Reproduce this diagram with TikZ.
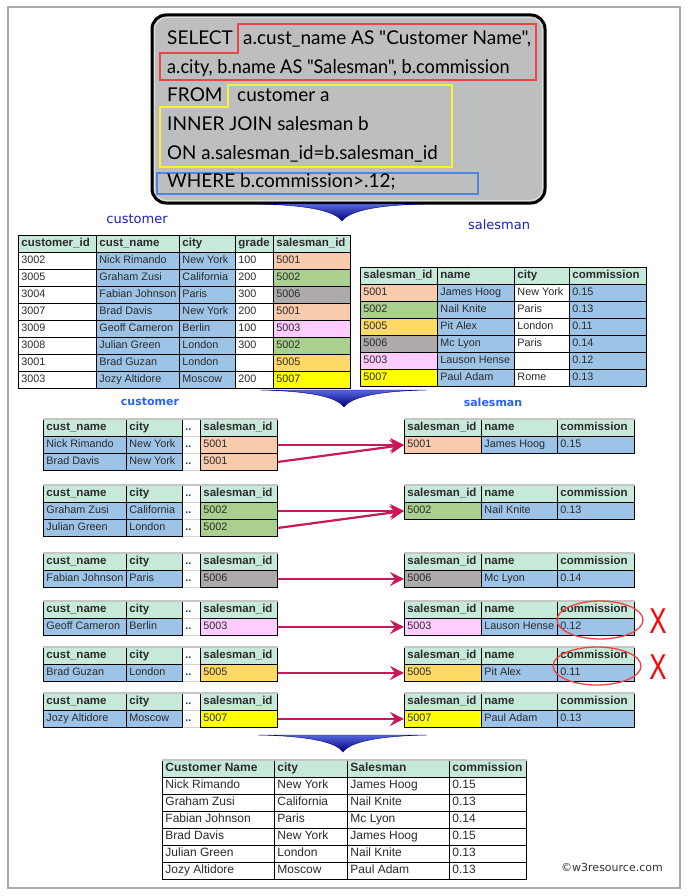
\documentclass[tikz,border=0pt]{standalone}
\usepackage{fontspec}
\setmainfont{Liberation Sans}
\newfontfamily\sqlfont{Lato}
\newfontfamily\lblfont{DejaVu Sans}
\usetikzlibrary{arrows.meta}
\definecolor{hdr}{HTML}{C6E9D9}
\definecolor{bl}{HTML}{9DC3E6}
\definecolor{salm}{HTML}{F8CBAD}
\definecolor{grn}{HTML}{A9D08E}
\definecolor{gry}{HTML}{AEAAAA}
\definecolor{pnk}{HTML}{FFCCFF}
\definecolor{org}{HTML}{FFD966}
\definecolor{yel}{HTML}{FFFF00}
\definecolor{txt}{HTML}{2B2B2B}
\definecolor{sqlbg}{HTML}{BDBEC0}
\definecolor{redl}{HTML}{EE4444}
\definecolor{yell}{HTML}{FFEE33}
\definecolor{bluel}{HTML}{4A86E8}
\definecolor{lblA}{HTML}{2020B8}
\definecolor{lblB}{HTML}{2A62F0}
\definecolor{crim}{HTML}{C8185A}
\definecolor{framec}{HTML}{AAAAAA}
\definecolor{arrTop}{HTML}{5566DD}
\definecolor{arrBot}{HTML}{00007A}
\definecolor{dotsc}{HTML}{1F3A60}
\newcommand\hd[1]{{\fontsize{11.5}{13}\selectfont\bfseries #1}}
\newcommand\mycell[6][]{\node[tcell,#1,anchor=north west] (#2) at (#3,#5) {\makebox[\dimexpr#4pt-#3pt-6pt\relax][l]{\strut#6}};}
% customer table row: prefix y id name city grade sid colour
\newcommand\custrow[8]{%
  \mycell{#1a}{18}{96}{#2}{#3}%
  \mycell[fill=bl]{#1b}{96}{179}{#2}{#4}%
  \mycell[fill=bl]{#1c}{179}{235}{#2}{#5}%
  \mycell{#1d}{235}{273}{#2}{#6}%
  \mycell[fill=#8]{#1e}{273}{350}{#2}{#7}}
% salesman table row: prefix y id name city comm colour
\newcommand\salrow[7]{%
  \mycell[fill=#7]{#1a}{360}{437}{#2}{#3}%
  \mycell[fill=bl]{#1b}{437}{514}{#2}{#4}%
  \mycell{#1c}{514}{569}{#2}{#5}%
  \mycell[fill=bl]{#1d}{569}{646}{#2}{#6}}
% left pair table
\newcommand\pairLh[2]{%
  \mycell[dotcell]{#1c}{182}{200}{#2}{\textbf{..}}%
  \mycell[fill=hdr]{#1a}{43}{126}{#2}{\hd{cust\_name}}%
  \mycell[fill=hdr]{#1b}{126}{182}{#2}{\hd{city}}%
  \mycell[fill=hdr]{#1d}{200}{277}{#2}{\hd{salesman\_id}}%
  \draw[hdrtop] (#1a.north west) -- (#1d.north east);}
\newcommand\pairL[6]{%
  \mycell[dotcell]{#1c}{182}{200}{#2}{\textbf{..}}%
  \mycell[fill=bl]{#1a}{43}{126}{#2}{#3}%
  \mycell[fill=bl]{#1b}{126}{182}{#2}{#4}%
  \mycell[fill=#6]{#1d}{200}{277}{#2}{#5}}
% right pair table
\newcommand\pairRh[2]{%
  \mycell[fill=hdr]{#1a}{404}{481}{#2}{\hd{salesman\_id}}%
  \mycell[fill=hdr]{#1b}{481}{557}{#2}{\hd{name}}%
  \mycell[fill=hdr]{#1c}{557}{634}{#2}{\hd{commission}}%
  \draw[hdrtop] (#1a.north west) -- (#1c.north east);}
\newcommand\pairR[6]{%
  \mycell[fill=#6]{#1a}{404}{481}{#2}{#3}%
  \mycell[fill=bl]{#1b}{481}{557}{#2}{#4}%
  \mycell[fill=bl]{#1c}{557}{634}{#2}{#5}}
% result row
\newcommand\resrow[6][]{%
  \mycell[big,#1]{#2a}{162}{274}{#3}{#4}%
  \mycell[big,#1]{#2b}{274}{347}{#3}{#5}%
  \mycell[big,#1]{#2c}{347}{449}{#3}{#6}}
\begin{document}
\begin{tikzpicture}[x=1pt,y=-1pt,
  tcell/.style={draw=black, line width=0.9pt, fill=white, inner xsep=3pt, inner ysep=0pt, minimum height=17pt, text=txt, font=\fontsize{10.8}{13}\selectfont},
  dotcell/.style={draw=gray!35, fill=white, text=dotsc},
  big/.style={font=\fontsize{12}{13}\selectfont},
  hdrtop/.style={draw=gray!45, line width=1.2pt},
  sql/.style={inner sep=0pt, anchor=base west, font=\sqlfont\fontsize{19}{22}\selectfont, text=black},
  lblA/.style={inner sep=0pt, text=lblA, font=\lblfont\fontsize{13}{15}\selectfont},
  lblB/.style={inner sep=0pt, text=lblB, font=\lblfont\bfseries\fontsize{11}{13}\selectfont},
  chev/.style={top color=arrTop, bottom color=arrBot, draw=arrBot, line width=0.4pt},
  jarrow/.style={draw=crim, line width=2.2pt, -{Stealth[length=14pt,width=14pt,inset=5pt]}},
  ellred/.style={draw=redl, line width=1.3pt},
  xmark/.style={inner sep=0pt, text=red, font=\fontsize{36}{36}\selectfont},
  wm/.style={inner sep=0pt, text=black!80, font=\lblfont\fontsize{11}{13}\selectfont}]
\useasboundingbox (0,0) rectangle (689,896);
\fill[white] (0,0) rectangle (689,896);
\draw[framec, line width=1.5pt] (8,7) rectangle (680,888);
% SQL box
\draw[line width=3pt, fill=sqlbg, rounded corners=14pt] (152,15) rectangle (545,203);
\draw[white, opacity=0.5, line width=1pt, rounded corners=12pt] (154.5,17.5) rectangle (542.5,200.5);
\draw[redl, line width=1.8pt] (238,24) -- (536,24) -- (536,80) -- (160,80) -- (160,53) -- (238,53) -- cycle;
\draw[yell, line width=1.8pt] (228,85) -- (452,85) -- (452,167) -- (160,167) -- (160,107) -- (228,107) -- cycle;
\draw[bluel, line width=1.8pt] (157,173) rectangle (478,194);
\node[sql] (q1) at (167,44.3) {SELECT};
\node[sql] (q2) at (243,44.3) {a.cust\_name AS "Customer Name",};
\node[sql] (q3) at (167,73.3) {\scalebox{0.955}[1]{a.city, b.name AS "Salesman", b.commission}};
\node[sql] (q4) at (167,101.7) {FROM};
\node[sql] (q5) at (237,101.7) {customer a};
\node[sql] (q6) at (167,130.7) {INNER JOIN salesman b};
\node[sql] (q7) at (167,160) {\scalebox{0.985}[1]{ON a.salesman\_id=b.salesman\_id}};
\node[sql] (q8) at (167,187.3) {WHERE b.commission>.12;};
% chevron 1
\path[chev] (257,204) -- (425,204) .. controls (380,205) and (350,210) .. (342,221) .. controls (334,210) and (304,205) .. (257,204) -- cycle;
% labels
\node[lblA] (lc) at (137,219) {customer};
\node[lblA] (ls) at (499,225) {salesman};
% customer table
\mycell[fill=hdr]{ch1}{18}{96}{235}{\hd{customer\_id}}
\mycell[fill=hdr]{ch2}{96}{179}{235}{\hd{cust\_name}}
\mycell[fill=hdr]{ch3}{179}{235}{235}{\hd{city}}
\mycell[fill=hdr]{ch4}{235}{273}{235}{\hd{grade}}
\mycell[fill=hdr]{ch5}{273}{350}{235}{\hd{salesman\_id}}
\custrow{cr1}{252}{3002}{Nick Rimando}{New York}{100}{5001}{salm}
\custrow{cr2}{269}{3005}{Graham Zusi}{California}{200}{5002}{grn}
\custrow{cr3}{286}{3004}{Fabian Johnson}{Paris}{300}{5006}{gry}
\custrow{cr4}{303}{3007}{Brad Davis}{New York}{200}{5001}{salm}
\custrow{cr5}{320}{3009}{Geoff Cameron}{Berlin}{100}{5003}{pnk}
\custrow{cr6}{337}{3008}{Julian Green}{London}{300}{5002}{grn}
\custrow{cr7}{354}{3001}{Brad Guzan}{London}{}{5005}{org}
\custrow{cr8}{371}{3003}{Jozy Altidore}{Moscow}{200}{5007}{yel}
% salesman table
\mycell[fill=hdr]{sh1}{360}{437}{267}{\hd{salesman\_id}}
\mycell[fill=hdr]{sh2}{437}{514}{267}{\hd{name}}
\mycell[fill=hdr]{sh3}{514}{569}{267}{\hd{city}}
\mycell[fill=hdr]{sh4}{569}{646}{267}{\hd{commission}}
\salrow{sr1}{284}{5001}{James Hoog}{New York}{0.15}{salm}
\salrow{sr2}{301}{5002}{Nail Knite}{Paris}{0.13}{grn}
\salrow{sr3}{318}{5005}{Pit Alex}{London}{0.11}{org}
\salrow{sr4}{335}{5006}{Mc Lyon}{Paris}{0.14}{gry}
\salrow{sr5}{352}{5003}{Lauson Hense}{}{0.12}{pnk}
\salrow{sr6}{369}{5007}{Paul Adam}{Rome}{0.13}{yel}
% chevron 2
\path[chev] (260,390) -- (427,390) .. controls (382,391) and (352,396) .. (344,407) .. controls (336,396) and (306,391) .. (260,390) -- cycle;
\node[lblB] (lc2) at (150,402) {customer};
\node[lblB] (ls2) at (493,402) {salesman};
% pair 1
\pairLh{pa}{419}
\pairL{pb}{436}{Nick Rimando}{New York}{5001}{salm}
\pairL{pc}{453}{Brad Davis}{New York}{5001}{salm}
\pairRh{qa}{419}
\pairR{qb}{436}{5001}{James Hoog}{0.15}{salm}
% pair 2
\pairLh{pd}{485}
\pairL{pe}{502}{Graham Zusi}{California}{5002}{grn}
\pairL{pf}{519}{Julian Green}{London}{5002}{grn}
\pairRh{qd}{485}
\pairR{qe}{502}{5002}{Nail Knite}{0.13}{grn}
% pair 3
\pairLh{pg}{553}
\pairL{ph}{570}{Fabian Johnson}{Paris}{5006}{gry}
\pairRh{qg}{553}
\pairR{qh}{570}{5006}{Mc Lyon}{0.14}{gry}
% pair 4
\pairLh{pi}{601}
\pairL{pj}{618}{Geoff Cameron}{Berlin}{5003}{pnk}
\pairRh{qi}{601}
\pairR{qj}{618}{5003}{Lauson Hense}{0.12}{pnk}
% pair 5
\pairLh{pk}{647}
\pairL{pl}{664}{Brad Guzan}{London}{5005}{org}
\pairRh{qk}{647}
\pairR{ql}{664}{5005}{Pit Alex}{0.11}{org}
% pair 6
\pairLh{pm}{693}
\pairL{pn}{710}{Jozy Altidore}{Moscow}{5007}{yel}
\pairRh{qm}{693}
\pairR{qn}{710}{5007}{Paul Adam}{0.13}{yel}
% join arrows
\draw[jarrow] (pbd.east) -- (qba.west);
\draw[jarrow] (pcd.east) -- (qba.west);
\draw[jarrow] (ped.east) -- (qea.west);
\draw[jarrow] (pfd.east) -- (qea.west);
\draw[jarrow] (phd.east) -- (qha.west);
\draw[jarrow] (pjd.east) -- (qja.west);
\draw[jarrow] (pld.east) -- (qla.west);
\draw[jarrow] (pnd.east) -- (qna.west);
% rejected
\draw[ellred] (600,620) ellipse [x radius=43, y radius=19];
\draw[ellred] (597,666) ellipse [x radius=44, y radius=19];
\node[xmark] (x1) at (658,621) {\scalebox{0.72}[1]{X}};
\node[xmark] (x2) at (658,667) {\scalebox{0.72}[1]{X}};
% chevron 3
\path[chev] (258,735) -- (427,735) .. controls (381,736) and (351,741) .. (343,752) .. controls (335,741) and (305,736) .. (258,735) -- cycle;
% result table
\resrow[fill=hdr]{rh}{760}{\bfseries Customer Name}{\bfseries city}{\bfseries Salesman}
\mycell[big,fill=hdr]{rhd}{449}{526}{760}{\bfseries commission}
\draw[hdrtop] (rha.north west) -- (rhd.north east);
\resrow{ra}{777}{Nick Rimando}{New York}{James Hoog}\mycell[big]{rad}{449}{526}{777}{0.15}
\resrow{rb}{794}{Graham Zusi}{California}{Nail Knite}\mycell[big]{rbd}{449}{526}{794}{0.13}
\resrow{rc}{811}{Fabian Johnson}{Paris}{Mc Lyon}\mycell[big]{rcd}{449}{526}{811}{0.14}
\resrow{rd}{828}{Brad Davis}{New York}{James Hoog}\mycell[big]{rdd}{449}{526}{828}{0.15}
\resrow{re}{845}{Julian Green}{London}{Nail Knite}\mycell[big]{red}{449}{526}{845}{0.13}
\resrow{rf}{862}{Jozy Altidore}{Moscow}{Paul Adam}\mycell[big]{rfd}{449}{526}{862}{0.13}
\node[wm, anchor=west] (wm) at (561,867) {©w3resource.com};
\end{tikzpicture}
\end{document}
